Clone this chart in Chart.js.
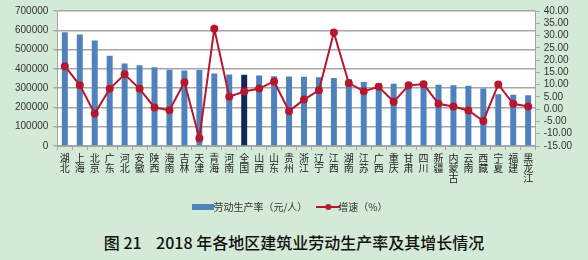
<!DOCTYPE html>
<html lang="zh">
<head>
  <meta charset="UTF-8" />
  <title>2018年各地区建筑业劳动生产率及其增长情况</title>
  <script src="https://cdn.jsdelivr.net/npm/chart.js"></script>
  <style>
    * { box-sizing: border-box; }

    body {
      margin: 0;
      width: 588px;
      height: 260px;
      background-color: #d3ead6;
      font-family: 'Noto Sans CJK SC', 'Noto Sans', sans-serif;
      overflow: hidden;
    }

    .chart-box {
      position: relative;
      width: 588px;
      height: 222px;
    }

    .caption {
      text-align: center;
      font-size: 16px;
      font-weight: 500;
      color: #111;
      margin-top: 8px;
      white-space: pre;
    }
  </style>
</head>
<body>

  <div class="chart-box">
    <canvas id="laborChart"></canvas>
  </div>
  <div class="caption">图 21    2018 年各地区建筑业劳动生产率及其增长情况</div>

  <script>
    // 地区
    const regions = ['湖北', '上海', '北京', '广东', '河北', '安徽', '陕西', '海南', '吉林', '天津',
      '青海', '河南', '全国', '山西', '山东', '贵州', '浙江', '辽宁', '江西', '湖南',
      '江苏', '广西', '重庆', '甘肃', '四川', '新疆', '内蒙古', '云南', '西藏', '宁夏',
      '福建', '黑龙江'];

    // 劳动生产率（元/人）
    const productivity = [590000, 578000, 547000, 468000, 428000, 419000, 408000, 396000, 392000, 394000,
      376000, 371000, 370000, 366000, 362000, 360000, 359000, 356000, 352000, 348000,
      332000, 327000, 323000, 320000, 318000, 317000, 315000, 312000, 298000, 268000,
      266000, 263000];

    // 增速（%）
    const growth = [17.5, 9.8, -1.8, 8.3, 14.2, 8.3, 0.7, -0.4, 11.0, -11.8,
      32.8, 5.1, 7.2, 8.4, 11.3, -0.8, 3.9, 7.7, 31.2, 10.6,
      7.3, 9.1, 3.0, 9.7, 10.2, 2.2, 1.1, -0.5, -4.8, 10.1,
      2.2, 1.1];

    const barColor = '#4f81bd';
    const nationColor = '#13275a';
    const lineColor = '#b5172f';
    const gridColor = '#a6a6a6';

    // white plot area
    const plotBackground = {
      id: 'plotBackground',
      beforeDraw(chart) {
        const a = chart.chartArea;
        const ctx = chart.ctx;
        ctx.save();
        ctx.fillStyle = '#ffffff';
        ctx.fillRect(a.left, a.top, a.right - a.left, a.bottom - a.top);
        ctx.restore();
      }
    };

    // legend symbols
    function barSymbol() {
      const c = document.createElement('canvas');
      c.width = 22; c.height = 6;
      const g = c.getContext('2d');
      g.fillStyle = barColor;
      g.fillRect(0, 0, 22, 6);
      return c;
    }

    function lineSymbol() {
      const c = document.createElement('canvas');
      c.width = 24; c.height = 8;
      const g = c.getContext('2d');
      g.strokeStyle = lineColor;
      g.lineWidth = 2;
      g.beginPath();
      g.moveTo(0, 4); g.lineTo(24, 4);
      g.stroke();
      g.fillStyle = lineColor;
      g.beginPath();
      g.arc(12, 4, 3, 0, Math.PI * 2);
      g.fill();
      return c;
    }

    const symbols = [barSymbol(), lineSymbol()];
    const tickFont = { family: "'Liberation Sans', sans-serif", size: 10 };

    const ctx = document.getElementById('laborChart').getContext('2d');
    new Chart(ctx, {
      data: {
        labels: regions.map(r => r.split('')),
        datasets: [
          {
            type: 'line',
            label: '增速（%）',
            data: growth,
            yAxisID: 'y1',
            borderColor: lineColor,
            backgroundColor: lineColor,
            borderWidth: 2,
            pointRadius: 3,
            pointHoverRadius: 3,
            tension: 0,
            order: 0
          },
          {
            type: 'bar',
            label: '劳动生产率（元/人）',
            data: productivity,
            yAxisID: 'y',
            backgroundColor: regions.map(r => r === '全国' ? nationColor : barColor),
            barPercentage: 0.4,
            categoryPercentage: 1,
            order: 1
          }
        ]
      },
      options: {
        responsive: true,
        maintainAspectRatio: false,
        animation: false,
        layout: {
          padding: { top: 11, left: 10, right: 12, bottom: 0 }
        },
        plugins: {
          tooltip: { enabled: false },
          legend: {
            position: 'bottom',
            reverse: true,
            labels: {
              usePointStyle: true,
              font: { family: "'Noto Sans CJK SC', sans-serif", size: 10 },
              color: '#333',
              padding: 16,
              generateLabels(chart) {
                return chart.data.datasets.map((ds, i) => ({
                  text: ds.label,
                  pointStyle: symbols[i === 1 ? 0 : 1],
                  datasetIndex: i,
                  fontColor: '#333',
                  lineWidth: 0,
                  strokeStyle: 'transparent',
                  fillStyle: 'transparent'
                }));
              }
            }
          }
        },
        scales: {
          x: {
            offset: true,
            grid: {
              drawOnChartArea: false,
              color: gridColor,
              tickLength: 4,
              offset: true
            },
            border: { color: gridColor },
            ticks: {
              autoSkip: false,
              maxRotation: 0,
              minRotation: 0,
              color: '#222',
              font: { family: "'Noto Sans CJK SC', sans-serif", size: 10, lineHeight: 1.0 },
              padding: 3
            }
          },
          y: {
            position: 'left',
            min: 0,
            max: 700000,
            ticks: {
              stepSize: 100000,
              autoSkip: false,
              color: '#333',
              font: tickFont,
              padding: 5,
              callback: v => String(v)
            },
            grid: {
              color: gridColor,
              lineWidth: 1.5,
              tickLength: 4
            },
            border: { color: gridColor }
          },
          y1: {
            position: 'right',
            min: -15,
            max: 40,
            ticks: {
              stepSize: 5,
              autoSkip: false,
              color: '#333',
              font: tickFont,
              padding: 4,
              callback: v => v.toFixed(2)
            },
            grid: {
              drawOnChartArea: false,
              color: gridColor,
              tickLength: 4
            },
            border: { color: gridColor }
          }
        }
      },
      plugins: [plotBackground]
    });
  </script>
</body>
</html>
